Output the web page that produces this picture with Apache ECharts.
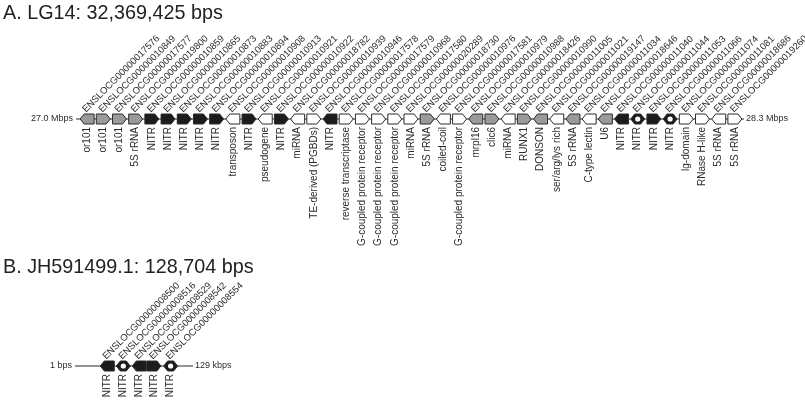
<!DOCTYPE html>
<html>
<head>
<meta charset="utf-8">
<script src="https://cdn.jsdelivr.net/npm/echarts@6/dist/echarts.min.js"></script>
<style>
  html, body { margin: 0; padding: 0; background: #ffffff; }
  #chart { width: 805px; height: 405px; }
</style>
</head>
<body>
<div id="chart"></div>
<script>
// ---- Panel A: LG14, genes in scaffold order ----
const lg14Ids = [
  'ENSLOCG00000017576', 'ENSLOCG00000010849', 'ENSLOCG00000017577', 'ENSLOCG00000019800',
  'ENSLOCG00000010859', 'ENSLOCG00000010865', 'ENSLOCG00000010873', 'ENSLOCG00000010883',
  'ENSLOCG00000010894', 'ENSLOCG00000010908', 'ENSLOCG00000010913', 'ENSLOCG00000010921',
  'ENSLOCG00000010922', 'ENSLOCG00000018782', 'ENSLOCG00000010939', 'ENSLOCG00000010946',
  'ENSLOCG00000017578', 'ENSLOCG00000017579', 'ENSLOCG00000010968', 'ENSLOCG00000017580',
  'ENSLOCG00000020289', 'ENSLOCG00000018730', 'ENSLOCG00000010976', 'ENSLOCG00000017581',
  'ENSLOCG00000010979', 'ENSLOCG00000010988', 'ENSLOCG00000018426', 'ENSLOCG00000010990',
  'ENSLOCG00000011005', 'ENSLOCG00000011021', 'ENSLOCG00000019147', 'ENSLOCG00000011034',
  'ENSLOCG00000018646', 'ENSLOCG00000011040', 'ENSLOCG00000011044', 'ENSLOCG00000011053',
  'ENSLOCG00000011066', 'ENSLOCG00000011074', 'ENSLOCG00000011081', 'ENSLOCG00000018686',
  'ENSLOCG00000019260'
];
const lg14Names = [
  'or101', 'or101', 'or101', '5S rRNA', 'NITR', 'NITR', 'NITR', 'NITR', 'NITR', 'transposon',
  'NITR', 'pseudogene', 'NITR', 'miRNA', 'TE-derived (PGBDs)', 'NITR', 'reverse transcriptase',
  'G-coupled protein receptor', 'G-coupled protein receptor', 'G-coupled protein receptor',
  'miRNA', '5S rRNA', 'coiled-coil', 'G-coupled protein receptor', 'mrpl16', 'clic6', 'miRNA',
  'RUNX1', 'DONSON', 'ser/arg/lys rich', '5S rRNA', 'C-type lectin', 'U6', 'NITR', 'NITR',
  'NITR', 'NITR', 'lg-domain', 'RNase H-like', '5S rRNA', '5S rRNA'
];
// strand: 1 forward, -1 reverse, 0 = drawn pointed at both ends
const lg14Strand = [
  -1, 1, 1, 1, 1, 1, 1, 1, 1, -1,
  1, -1, 1, -1, 1, -1, 1, 1, 1, 1,
  1, 1, -1, 1, -1, 1, -1, 1, -1, -1,
  -1, -1, -1, -1, 0, 1, 0, 1, 1, -1,
  1
];
// fill class: g = grey, k = black (NITR), w = white, d = black NITR with open centre
const lg14Kind = [
  'g', 'g', 'g', 'g', 'k', 'k', 'k', 'k', 'k', 'w',
  'k', 'w', 'k', 'w', 'w', 'k', 'w', 'w', 'w', 'w',
  'w', 'g', 'w', 'w', 'g', 'g', 'w', 'g', 'g', 'w',
  'g', 'w', 'g', 'k', 'd', 'k', 'd', 'w', 'w', 'w',
  'w'
];
const lg14Ends = ['27.0 Mbps', '28.3 Mbps'];

// ---- Panel B: JH591499.1 scaffold ----
const jhLength = 128704;
const jhStart = 1;
const jhIds = [
  'ENSLOCG00000008500', 'ENSLOCG00000008516', 'ENSLOCG00000008529',
  'ENSLOCG00000008542', 'ENSLOCG00000008554'
];
const jhNames = ['NITR', 'NITR', 'NITR', 'NITR', 'NITR'];
const jhPos = [35200, 52700, 70100, 86100, 104300];
const jhStrand = [-1, 0, -1, 1, 0];
const jhKind = ['k', 'd', 'k', 'k', 'd'];
const jhEnds = ['1 bps', '129 kbps'];

const titles = ['A. LG14: 32,369,425 bps', 'B. JH591499.1: 128,704 bps'];

const FONT = '"Liberation Sans", Arial, Helvetica, sans-serif';
const TXT = '#2b2b2b';
const STROKE = '#2b2b2b';
const FILLS = { g: '#9a9a9a', k: '#1c1c1c', w: '#ffffff', d: '#1c1c1c' };
const GLYPH_W = 14, GLYPH_H = 10, TIP = 4;

function arrowPoints(cx, cy, strand) {
  const x0 = cx - GLYPH_W / 2, x1 = cx + GLYPH_W / 2;
  const y0 = cy - GLYPH_H / 2, y1 = cy + GLYPH_H / 2;
  if (strand > 0) {
    return [[x0, y0], [x1 - TIP, y0], [x1, cy], [x1 - TIP, y1], [x0, y1]];
  }
  if (strand < 0) {
    return [[x1, y0], [x0 + TIP, y0], [x0, cy], [x0 + TIP, y1], [x1, y1]];
  }
  return [[x0, cy], [x0 + TIP, y0], [x1 - TIP, y0], [x1, cy], [x1 - TIP, y1], [x0 + TIP, y1]];
}

function geneGroup(cx, cy, id, name, strand, kind) {
  const children = [
    {
      type: 'polygon',
      shape: { points: arrowPoints(cx, cy, strand) },
      style: { fill: FILLS[kind], stroke: STROKE, lineWidth: 1, lineJoin: 'round' }
    },
    {
      type: 'text',
      x: cx - 3, y: cy - GLYPH_H / 2 - 3,
      rotation: Math.PI / 4,
      style: { text: id, fill: TXT, font: '9.5px ' + FONT, align: 'left', verticalAlign: 'middle' }
    },
    {
      type: 'text',
      x: cx, y: cy + GLYPH_H / 2 + 3,
      rotation: Math.PI / 2,
      style: { text: name, fill: TXT, font: '10px ' + FONT, align: 'right', verticalAlign: 'middle' }
    }
  ];
  if (kind === 'd') {
    children.push({
      type: 'circle',
      shape: { cx: cx, cy: cy, r: 2.6 },
      style: { fill: '#ffffff' }
    });
  }
  return { type: 'group', children: children };
}

function backbone(xa, xb, cy, ends) {
  return {
    type: 'group',
    children: [
      { type: 'line', shape: { x1: xa, y1: cy, x2: xb, y2: cy }, style: { stroke: STROKE, lineWidth: 1.2 } },
      { type: 'text', x: xa - 3, y: cy, style: { text: ends[0], fill: TXT, font: '9px ' + FONT, align: 'right', verticalAlign: 'middle' } },
      { type: 'text', x: xb + 2, y: cy, style: { text: ends[1], fill: TXT, font: '9px ' + FONT, align: 'left', verticalAlign: 'middle' } }
    ]
  };
}

const chart = echarts.init(document.getElementById('chart'), null, { renderer: 'canvas' });

const titleStyle = { fontFamily: FONT, fontSize: 19.8, fontWeight: 'normal', color: '#222' };

const option = {
  backgroundColor: '#ffffff',
  animation: false,
  title: [
    { text: titles[0], left: 3, top: 4, padding: 0, textStyle: titleStyle },
    { text: titles[1], left: 3, top: 258, padding: 0, textStyle: titleStyle }
  ],
  grid: [
    { left: 79, width: 664, top: 109, height: 20 },
    { left: 75, width: 118, top: 356, height: 20 }
  ],
  xAxis: [
    { gridIndex: 0, type: 'category', data: lg14Ids, boundaryGap: true, show: false },
    { gridIndex: 1, type: 'value', min: 0, max: jhLength, show: false }
  ],
  yAxis: [
    { gridIndex: 0, type: 'value', min: -1, max: 1, show: false },
    { gridIndex: 1, type: 'value', min: -1, max: 1, show: false }
  ],
  series: [
    {
      // LG14 backbone with its end coordinates
      type: 'custom', xAxisIndex: 0, yAxisIndex: 0, z: 1,
      data: [[0, 0]],
      renderItem: function (params, api) {
        const band = api.size([1, 0])[0];
        const a = api.coord([0, 0]);
        const b = api.coord([lg14Ids.length - 1, 0]);
        return backbone(a[0] - band / 2 - 3, b[0] + band / 2 + 1, a[1], lg14Ends);
      }
    },
    {
      type: 'custom', xAxisIndex: 0, yAxisIndex: 0, z: 2,
      data: lg14Ids.map(function (id, i) { return [i, 0]; }),
      renderItem: function (params, api) {
        const i = params.dataIndex;
        const c = api.coord([api.value(0), 0]);
        return geneGroup(c[0], c[1], lg14Ids[i], lg14Names[i], lg14Strand[i], lg14Kind[i]);
      }
    },
    {
      // JH591499.1 backbone, full scaffold length
      type: 'custom', xAxisIndex: 1, yAxisIndex: 1, z: 1,
      data: [[jhStart, 0]],
      renderItem: function (params, api) {
        const a = api.coord([jhStart, 0]);
        const b = api.coord([jhLength, 0]);
        return backbone(a[0], b[0], a[1], jhEnds);
      }
    },
    {
      type: 'custom', xAxisIndex: 1, yAxisIndex: 1, z: 2,
      data: jhPos.map(function (p) { return [p, 0]; }),
      renderItem: function (params, api) {
        const i = params.dataIndex;
        const c = api.coord([api.value(0), 0]);
        return geneGroup(c[0], c[1], jhIds[i], jhNames[i], jhStrand[i], jhKind[i]);
      }
    }
  ]
};

chart.setOption(option);
</script>
</body>
</html>
